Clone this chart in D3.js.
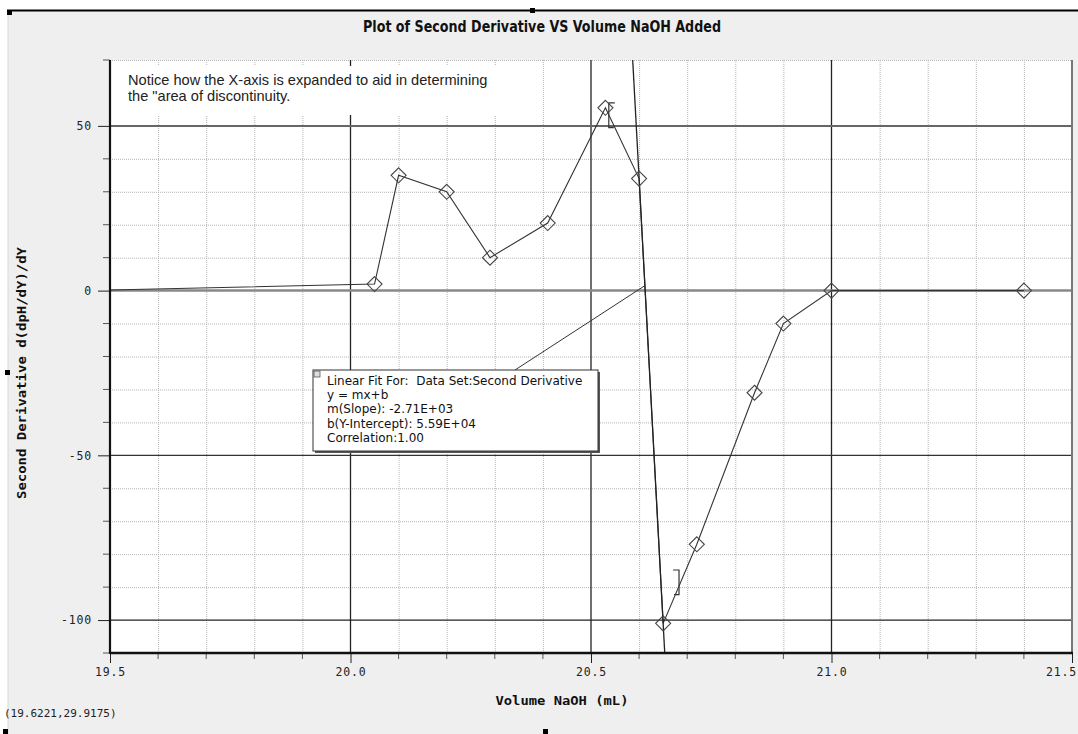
<!DOCTYPE html>
<html>
<head>
<meta charset="utf-8">
<script src="https://cdn.jsdelivr.net/npm/d3@7"></script>
<style>
  html, body { margin: 0; padding: 0; background: #ffffff; }
  svg { display: block; }
</style>
</head>
<body>
<svg id="chart" width="1078" height="734"></svg>
<script>
// ---- data ----
const volumes = [19.45, 20.05, 20.10, 20.20, 20.29, 20.41, 20.53, 20.60, 20.65, 20.72, 20.84, 20.90, 21.00, 21.40];
const secondDerivative = [0, 2, 35, 30, 10, 20.5, 55.5, 34, -101, -77, -31, -10, 0, 0];
const fitLineX = [20.5867, 20.6533];
const fitLineY = [70, -110];
const bracketLeft = { x: 20.537, y0: 57, y1: 49.5 };
const bracketRight = { x: 20.683, y0: -84.8, y1: -92.3 };
const connectorEnd = [20.612, 1.5];
const xTicksMajor = [19.5, 20.0, 20.5, 21.0, 21.5];
const xTickLabels = ["19.5", "20.0", "20.5", "21.0", "21.5"];
const yTicksMajor = [50, 0, -50, -100];
const yTickLabels = ["50", "0", "-50", "-100"];
const xMinor = [19.6, 19.7, 19.8, 19.9, 20.1, 20.2, 20.3, 20.4, 20.6, 20.7, 20.8, 20.9, 21.1, 21.2, 21.3, 21.4];
const yMinor = [70, 40, 30, 20, 10, -10, -20, -30, -40, -60, -70, -80, -90, -110];
const titleText = "Plot of Second Derivative VS Volume NaOH Added";
const xTitle = "Volume NaOH (mL)";
const yTitle = "Second Derivative d(dpH/dY)/dY";
const noteLines = ["Notice how the X-axis is expanded to aid in determining", "the \"area of discontinuity."];
const fitLines = ["Linear Fit For:  Data Set:Second Derivative", "y = mx+b", "m(Slope): -2.71E+03", "b(Y-Intercept): 5.59E+04", "Correlation:1.00"];
const cursorText = "(19.6221,29.9175)";

// ---- layout ----
const L = 110, R = 1072, T = 60, B = 653;
const svg = d3.select("#chart");
const x = d3.scaleLinear().domain([19.5, 21.5]).range([L, R]);
const y = d3.scaleLinear().domain([-110, 70]).range([B, T]);

// page background
svg.append("rect").attr("x", 0).attr("y", 0).attr("width", 1078).attr("height", 734).attr("fill", "#ffffff");
svg.append("rect").attr("x", 8).attr("y", 11).attr("width", 1070).attr("height", 723).attr("fill", "#efefef");
svg.append("line").attr("x1", 8).attr("x2", 8).attr("y1", 11).attr("y2", 734).attr("stroke", "#d8d8d8").attr("stroke-width", 1);
svg.append("line").attr("x1", 7).attr("x2", 1078).attr("y1", 10.5).attr("y2", 10.5).attr("stroke", "#000").attr("stroke-width", 2);
// handles
[[7, 10], [530, 8], [5, 370], [543, 729], [3, 729]].forEach(([hx, hy]) => {
  svg.append("rect").attr("x", hx).attr("y", hy).attr("width", 5).attr("height", 5).attr("fill", "#000");
});

// plot area
svg.append("rect").attr("x", L).attr("y", T).attr("width", R - L).attr("height", B - T).attr("fill", "#fff");

svg.append("clipPath").attr("id", "plotclip").append("rect")
  .attr("x", L).attr("y", T).attr("width", R - L).attr("height", B - T);

const grid = svg.append("g");
// minor grid
grid.selectAll(".vx").data(xMinor).join("line")
  .attr("x1", d => x(d) + 0.5).attr("x2", d => x(d) + 0.5).attr("y1", T).attr("y2", B)
  .attr("stroke", "#b4b4b4").attr("stroke-width", 1).attr("stroke-dasharray", "1,1");
grid.selectAll(".hy").data(yMinor).join("line")
  .attr("y1", d => y(d) + 0.5).attr("y2", d => y(d) + 0.5).attr("x1", L).attr("x2", R)
  .attr("stroke", "#b4b4b4").attr("stroke-width", 1).attr("stroke-dasharray", "1,1");
// major grid
grid.selectAll(".mx").data(xTicksMajor.slice(1, 4)).join("line")
  .attr("x1", d => x(d)).attr("x2", d => x(d)).attr("y1", T).attr("y2", B)
  .attr("stroke", "#222").attr("stroke-width", 1.3);
const hStyles = { "50": ["#666", 2], "0": ["#888", 2.5], "-50": ["#333", 1.3], "-100": ["#222", 1.3] };
grid.selectAll(".my").data(yTicksMajor).join("line")
  .attr("y1", d => y(d)).attr("y2", d => y(d)).attr("x1", L).attr("x2", R)
  .attr("stroke", d => hStyles[d][0]).attr("stroke-width", d => hStyles[d][1]);
// right border
svg.append("line").attr("x1", R).attr("x2", R).attr("y1", T).attr("y2", B).attr("stroke", "#777").attr("stroke-width", 2);

// annotation box (note)
svg.append("rect").attr("x", L + 1).attr("y", 66).attr("width", 412).attr("height", 49).attr("fill", "#fff");
svg.append("g").selectAll("text").data(noteLines).join("text")
  .attr("x", 128).attr("y", (d, i) => 85 + i * 15.5)
  .attr("font-family", "'Liberation Sans', Arial, sans-serif").attr("font-size", 14.6)
  .attr("fill", "#222").text(d => d);

const plot = svg.append("g").attr("clip-path", "url(#plotclip)");

// data line
const line = d3.line().x(d => x(d[0])).y(d => y(d[1]));
const pts = volumes.map((v, i) => [v, secondDerivative[i]]);
plot.append("path").datum(pts).attr("d", line).attr("fill", "none").attr("stroke", "#333").attr("stroke-width", 1.1);

// fit line
plot.append("line")
  .attr("x1", x(fitLineX[0])).attr("y1", y(fitLineY[0]))
  .attr("x2", x(fitLineX[1])).attr("y2", y(fitLineY[1]))
  .attr("stroke", "#222").attr("stroke-width", 1.3);

// brackets
plot.append("path")
  .attr("d", `M${x(bracketLeft.x) + 6},${y(bracketLeft.y0)} H${x(bracketLeft.x)} V${y(bracketLeft.y1)} H${x(bracketLeft.x) + 5}`)
  .attr("fill", "none").attr("stroke", "#333").attr("stroke-width", 1.2);
plot.append("path")
  .attr("d", `M${x(bracketRight.x) - 6},${y(bracketRight.y0)} H${x(bracketRight.x)} V${y(bracketRight.y1)} H${x(bracketRight.x) - 5}`)
  .attr("fill", "none").attr("stroke", "#333").attr("stroke-width", 1.2);

// diamonds
plot.selectAll(".pt").data(pts.filter(d => d[0] >= 19.5)).join("path")
  .attr("transform", d => `translate(${x(d[0])},${y(d[1])})`)
  .attr("d", "M0,-7.5 L7.5,0 L0,7.5 L-7.5,0 Z")
  .attr("fill", "none").attr("stroke", "#444").attr("stroke-width", 1.1);

// connector from fit box to fit line
const bx = 313, by = 370, bw = 285, bh = 81;
svg.append("line").attr("x1", 515).attr("y1", by).attr("x2", x(connectorEnd[0])).attr("y2", y(connectorEnd[1]))
  .attr("stroke", "#333").attr("stroke-width", 1);

// fit box
svg.append("rect").attr("x", bx + 2).attr("y", by + 2).attr("width", bw).attr("height", bh).attr("fill", "#555");
svg.append("rect").attr("x", bx).attr("y", by).attr("width", bw).attr("height", bh).attr("fill", "#fff").attr("stroke", "#333").attr("stroke-width", 1);
svg.append("rect").attr("x", bx + 1).attr("y", by + 1).attr("width", 6).attr("height", 6).attr("fill", "#ddd").attr("stroke", "#555").attr("stroke-width", 0.8);
svg.append("g").selectAll("text").data(fitLines).join("text")
  .attr("x", 327).attr("y", (d, i) => 385 + i * 14.2)
  .attr("font-family", "'DejaVu Sans', sans-serif").attr("font-size", 12)
  .style("white-space", "pre")
  .attr("fill", "#111").text(d => d);

// axes
const axisFont = "'DejaVu Sans Mono', monospace";
const yAxis = d3.axisLeft(y).tickValues(yTicksMajor).tickSize(12).tickFormat((d, i) => yTickLabels[i]);
const gy = svg.append("g").attr("transform", `translate(${L},0)`).call(yAxis);
gy.select(".domain").remove();
gy.selectAll(".tick line").attr("stroke", "#222");
gy.selectAll(".tick text").attr("font-family", axisFont).attr("font-size", 11.5).attr("fill", "#222").attr("dx", "-3").attr("letter-spacing", 0.8);
svg.append("g").selectAll("line").data(yMinor).join("line")
  .attr("x1", L - 7).attr("x2", L).attr("y1", d => y(d)).attr("y2", d => y(d)).attr("stroke", "#555");

const xAxis = d3.axisBottom(x).tickValues(xTicksMajor).tickSize(10).tickFormat((d, i) => xTickLabels[i]);
const gx = svg.append("g").attr("transform", `translate(0,${B})`).call(xAxis);
gx.select(".domain").remove();
gx.selectAll(".tick line").attr("stroke", "#222");
gx.selectAll(".tick text").attr("font-family", axisFont).attr("font-size", 11.5).attr("fill", "#222").attr("dy", "0.85em").attr("letter-spacing", 0.8)
  .attr("dx", (d, i) => i === xTicksMajor.length - 1 ? -11 : 0);
svg.append("g").selectAll("line").data(xMinor).join("line")
  .attr("y1", B).attr("y2", B + 6).attr("x1", d => x(d)).attr("x2", d => x(d)).attr("stroke", "#555");

// axis lines
svg.append("line").attr("x1", L).attr("x2", L).attr("y1", T).attr("y2", B + 1).attr("stroke", "#111").attr("stroke-width", 2.2);
svg.append("line").attr("x1", L).attr("x2", R + 1).attr("y1", B).attr("y2", B).attr("stroke", "#111").attr("stroke-width", 2.6);

// titles
svg.append("text").attr("x", 542).attr("y", 32).attr("text-anchor", "middle")
  .attr("font-family", "'Liberation Sans Narrow', 'DejaVu Sans Condensed', sans-serif").attr("font-weight", "bold")
  .attr("font-size", 15).attr("textLength", 358).attr("lengthAdjust", "spacingAndGlyphs")
  .attr("fill", "#111").text(titleText);
svg.append("text").attr("x", 562).attr("y", 705).attr("text-anchor", "middle")
  .attr("font-family", axisFont).attr("font-weight", "bold").attr("font-size", 12.5)
  .attr("textLength", 133).attr("lengthAdjust", "spacingAndGlyphs")
  .attr("fill", "#111").text(xTitle);
svg.append("text").attr("transform", "translate(26,373) rotate(-90)").attr("text-anchor", "middle")
  .attr("font-family", axisFont).attr("font-weight", "bold").attr("font-size", 12.5)
  .attr("textLength", 252).attr("lengthAdjust", "spacingAndGlyphs")
  .attr("fill", "#111").text(yTitle);

// cursor readout
svg.append("text").attr("x", 4).attr("y", 717)
  .attr("font-family", axisFont).attr("font-size", 11).attr("fill", "#222").text(cursorText);
</script>
</body>
</html>
